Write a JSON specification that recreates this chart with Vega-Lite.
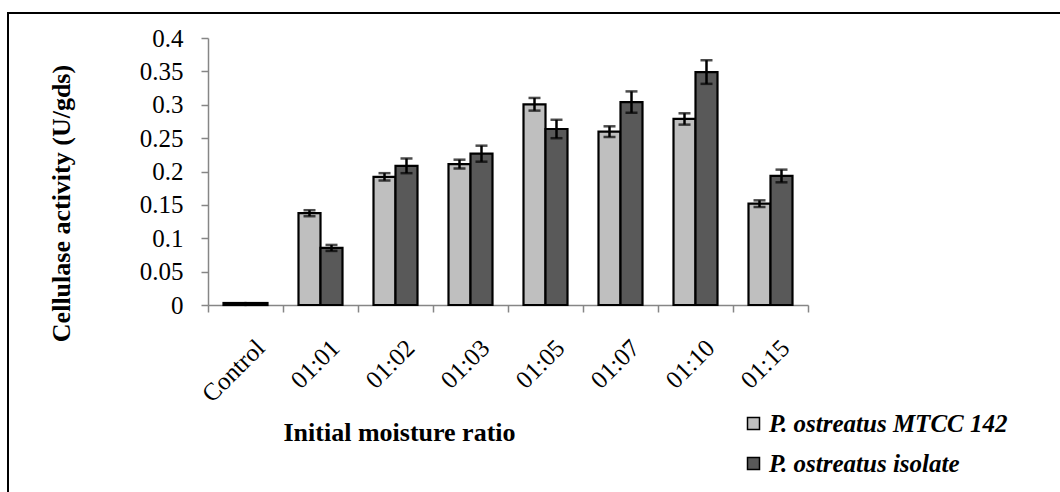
{
  "$schema": "https://vega.github.io/schema/vega-lite/v6.json",
  "autosize": {"type": "none"},
  "padding": {"left": 8, "top": 13, "right": -1, "bottom": -1},
  "width": 1053,
  "height": 480,
  "background": "white",
  "config": {
    "view": {"stroke": "black", "strokeWidth": 2},
    "font": "Liberation Serif"
  },
  "data": {
    "values": [
      {"ratio": "Control", "strain": "P. ostreatus MTCC 142", "value": 0.003, "lo": null, "hi": null},
      {"ratio": "Control", "strain": "P. ostreatus isolate", "value": 0.003, "lo": null, "hi": null},
      {"ratio": "01:01", "strain": "P. ostreatus MTCC 142", "value": 0.1375, "lo": 0.133, "hi": 0.142},
      {"ratio": "01:01", "strain": "P. ostreatus isolate", "value": 0.0855, "lo": 0.081, "hi": 0.090},
      {"ratio": "01:02", "strain": "P. ostreatus MTCC 142", "value": 0.192, "lo": 0.1865, "hi": 0.1975},
      {"ratio": "01:02", "strain": "P. ostreatus isolate", "value": 0.2085, "lo": 0.1975, "hi": 0.2195},
      {"ratio": "01:03", "strain": "P. ostreatus MTCC 142", "value": 0.211, "lo": 0.2045, "hi": 0.2177},
      {"ratio": "01:03", "strain": "P. ostreatus isolate", "value": 0.2267, "lo": 0.2147, "hi": 0.2387},
      {"ratio": "01:05", "strain": "P. ostreatus MTCC 142", "value": 0.3007, "lo": 0.2912, "hi": 0.3102},
      {"ratio": "01:05", "strain": "P. ostreatus isolate", "value": 0.2637, "lo": 0.2499, "hi": 0.2775},
      {"ratio": "01:07", "strain": "P. ostreatus MTCC 142", "value": 0.2597, "lo": 0.2517, "hi": 0.2677},
      {"ratio": "01:07", "strain": "P. ostreatus isolate", "value": 0.304, "lo": 0.288, "hi": 0.320},
      {"ratio": "01:10", "strain": "P. ostreatus MTCC 142", "value": 0.2787, "lo": 0.2702, "hi": 0.2872},
      {"ratio": "01:10", "strain": "P. ostreatus isolate", "value": 0.349, "lo": 0.3313, "hi": 0.3667},
      {"ratio": "01:15", "strain": "P. ostreatus MTCC 142", "value": 0.1518, "lo": 0.1468, "hi": 0.1568},
      {"ratio": "01:15", "strain": "P. ostreatus isolate", "value": 0.1933, "lo": 0.1838, "hi": 0.2028}
    ]
  },
  "encoding": {
    "x": {
      "field": "ratio",
      "type": "nominal",
      "sort": ["Control", "01:01", "01:02", "01:03", "01:05", "01:07", "01:10", "01:15"],
      "scale": {"range": [200, 800], "paddingInner": 0, "paddingOuter": 0},
      "axis": {
        "orient": "bottom",
        "offset": -188,
        "title": "Initial moisture ratio",
        "titleFont": "Liberation Serif",
        "titleFontWeight": "bold",
        "titleFontSize": 26,
        "titleColor": "black",
        "titleX": 391,
        "titleY": 127,
        "titleBaseline": "middle",
        "titleAlign": "center",
        "labelAngle": -45,
        "labelAlign": "right",
        "labelBaseline": "top",
        "labelFont": "Liberation Serif",
        "labelFontSize": 25,
        "labelColor": "black",
        "labelPadding": 23,
        "labelOffset": 6,
        "tickBand": "extent",
        "tickColor": "#868686",
        "tickSize": 7,
        "tickWidth": 1.5,
        "domainColor": "#868686",
        "domainWidth": 1.5,
        "grid": false
      }
    },
    "xOffset": {
      "field": "strain",
      "type": "nominal",
      "scale": {"domain": ["P. ostreatus MTCC 142", "P. ostreatus isolate"], "paddingInner": 0, "paddingOuter": 0.705}
    }
  },
  "layer": [
    {
      "mark": {"type": "bar", "stroke": "black", "strokeWidth": 2.2},
      "encoding": {
        "y": {
          "field": "value",
          "type": "quantitative",
          "scale": {"domain": [0, 0.4], "range": [292, 25], "nice": false, "zero": true},
          "axis": {
            "orient": "left",
            "offset": -200,
            "values": [0, 0.05, 0.1, 0.15, 0.2, 0.25, 0.3, 0.35, 0.4],
            "format": "~g",
            "title": "Cellulase activity (U/gds)",
            "titleFont": "Liberation Serif",
            "titleFontWeight": "bold",
            "titleFontSize": 26,
            "titleColor": "black",
            "titleX": -147,
            "titleY": 190,
            "titleBaseline": "middle",
            "titleAlign": "center",
            "labelFont": "Liberation Serif",
            "labelFontSize": 25,
            "labelColor": "black",
            "labelPadding": 18,
            "tickColor": "#868686",
            "tickSize": 7,
            "tickWidth": 1.5,
            "domainColor": "#868686",
            "domainWidth": 1.5,
            "grid": false
          }
        },
        "color": {
          "field": "strain",
          "type": "nominal",
          "scale": {"domain": ["P. ostreatus MTCC 142", "P. ostreatus isolate"], "range": ["#BFBFBF", "#595959"]},
          "legend": {
            "orient": "none",
            "legendX": 733,
            "legendY": 398,
            "title": null,
            "symbolType": "square",
            "symbolSize": 144,
            "symbolStrokeColor": "black",
            "symbolStrokeWidth": 1.5,
            "labelFont": "Liberation Serif",
            "labelFontSize": 25,
            "labelFontWeight": "bold",
            "labelFontStyle": "italic",
            "labelColor": "black",
            "labelOffset": 3,
            "labelLimit": 400,
            "rowPadding": 14
          }
        }
      }
    },
    {
      "mark": {"type": "rule", "color": "black", "strokeWidth": 2.5},
      "encoding": {
        "y": {"field": "lo", "type": "quantitative"},
        "y2": {"field": "hi"}
      }
    },
    {
      "mark": {"type": "tick", "color": "black", "thickness": 2.5, "size": 12, "orient": "horizontal"},
      "encoding": {"y": {"field": "lo", "type": "quantitative"}}
    },
    {
      "mark": {"type": "tick", "color": "black", "thickness": 2.5, "size": 12, "orient": "horizontal"},
      "encoding": {"y": {"field": "hi", "type": "quantitative"}}
    }
  ]
}
